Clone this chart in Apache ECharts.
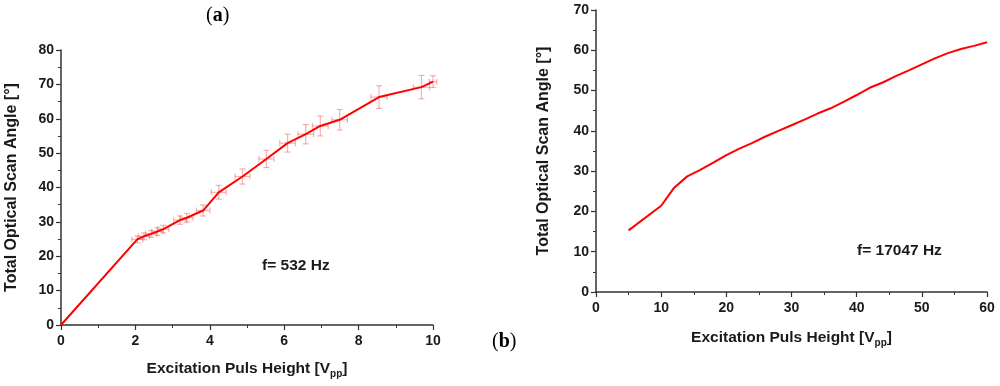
<!DOCTYPE html>
<html><head><meta charset="utf-8">
<script src="https://cdn.jsdelivr.net/npm/echarts@6/dist/echarts.min.js"></script>
<style>html,body{margin:0;padding:0;background:#fff}#c{width:1000px;height:386px}</style>
</head><body><div id="c"></div>
<script>
// Panel (a): f = 532 Hz, with error bars
const aX = [0, 2.05, 2.23, 2.42, 2.59, 2.75, 3.2, 3.38, 3.82, 4.24, 4.88, 5.52, 6.09, 6.58, 6.97, 7.49, 8.55, 9.69, 10.0];
const aY = [0, 24.9, 25.8, 26.5, 27.2, 27.9, 30.5, 31.2, 33.3, 38.6, 43.2, 48.3, 52.9, 55.5, 57.9, 59.7, 66.3, 69.2, 70.8];
const aErrY = [0, 1.0, 1.0, 1.0, 1.1, 1.1, 1.2, 1.3, 1.6, 2.0, 2.2, 2.5, 2.6, 2.8, 2.9, 3.0, 3.3, 3.4, 1.7];
const aErrX = [0, 0.15, 0.15, 0.15, 0.15, 0.15, 0.17, 0.17, 0.18, 0.2, 0.2, 0.2, 0.21, 0.21, 0.21, 0.21, 0.22, 0.22, 0.1];
// Panel (b): f = 17047 Hz
const bX = [5, 10, 12, 14, 16, 18, 20, 22, 24, 26, 28, 30, 32, 34, 36, 38, 40, 42, 44, 46, 48, 50, 52, 54, 56, 58, 60];
const bY = [15.3, 21.4, 25.9, 28.7, 30.3, 32.1, 34.0, 35.6, 37.0, 38.6, 40.0, 41.4, 42.8, 44.3, 45.6, 47.2, 48.9, 50.7, 52.0, 53.6, 55.0, 56.5, 58.0, 59.3, 60.3, 61.1, 62.0];

const xTitle = 'Excitation Puls Height [V{sub|pp}]';
const yTitle = 'Total Optical Scan Angle [°]';
const labelA = 'f= 532 Hz';
const labelB = 'f= 17047 Hz';

const FONT = '"Liberation Sans", Arial, sans-serif';
const axisCol = '#333';
const txtCol = '#1a1a1a';

function axisBase(min, max, interval, isY, name, nameGap, nameSize) {
  return {
    type: 'value', min: min, max: max, interval: interval,
    splitLine: {show: false},
    axisLine: {show: true, onZero: false, lineStyle: {color: axisCol, width: 1.5}},
    axisTick: {show: true, inside: false, length: 5, lineStyle: {color: axisCol, width: 1.2}},
    minorTick: {show: true, splitNumber: 2, length: 3, lineStyle: {color: axisCol, width: 1}},
    axisLabel: {color: txtCol, fontFamily: FONT, fontWeight: 'bold', fontSize: 14, margin: isY ? 7 : 9},
    name: name, nameLocation: 'middle', nameGap: nameGap,
    nameTextStyle: {color: txtCol, fontFamily: FONT, fontWeight: 'bold', fontSize: nameSize,
      rich: {sub: {fontSize: 10, fontFamily: FONT, fontWeight: 'bold', color: txtCol, padding: [11, 0, 0, 0]}}}
  };
}

const errData = aX.map((x, i) => [x, aY[i], aErrX[i], aErrY[i]]).filter(d => d[2] > 0 || d[3] > 0);

function renderErr(params, api) {
  const x = api.value(0), y = api.value(1), ex = api.value(2), ey = api.value(3);
  const top = api.coord([x, y + ey]);
  const bot = api.coord([x, y - ey]);
  const lft = api.coord([x - ex, y]);
  const rgt = api.coord([x + ex, y]);
  const cap = 3;
  const st = {stroke: 'rgba(240,110,110,0.55)', lineWidth: 1.2, fill: null};
  return {type: 'group', children: [
    {type: 'line', shape: {x1: top[0], y1: top[1], x2: bot[0], y2: bot[1]}, style: st},
    {type: 'line', shape: {x1: top[0] - cap, y1: top[1], x2: top[0] + cap, y2: top[1]}, style: st},
    {type: 'line', shape: {x1: bot[0] - cap, y1: bot[1], x2: bot[0] + cap, y2: bot[1]}, style: st},
    {type: 'line', shape: {x1: lft[0], y1: lft[1], x2: rgt[0], y2: rgt[1]}, style: st},
    {type: 'line', shape: {x1: lft[0], y1: lft[1] - cap, x2: lft[0], y2: lft[1] + cap}, style: st},
    {type: 'line', shape: {x1: rgt[0], y1: rgt[1] - cap, x2: rgt[0], y2: rgt[1] + cap}, style: st}
  ]};
}

const chart = echarts.init(document.getElementById('c'), null, {renderer: 'canvas'});
chart.setOption({
  backgroundColor: '#fff',
  animation: false,
  grid: [
    {left: 61, top: 50, width: 372, height: 275},
    {left: 596, top: 10, width: 391, height: 282}
  ],
  xAxis: [
    Object.assign(axisBase(0, 10, 2, false, xTitle, 33, 15.5), {gridIndex: 0}),
    Object.assign(axisBase(0, 60, 10, false, xTitle, 35, 15.5), {gridIndex: 1})
  ],
  yAxis: [
    Object.assign(axisBase(0, 80, 10, true, yTitle, 41, 16), {gridIndex: 0}),
    Object.assign(axisBase(0, 70, 10, true, yTitle, 44, 16), {gridIndex: 1})
  ],
  series: [
    {type: 'custom', xAxisIndex: 0, yAxisIndex: 0, renderItem: renderErr, data: errData, z: 2, silent: true},
    {type: 'line', xAxisIndex: 0, yAxisIndex: 0, data: aX.map((x, i) => [x, aY[i]]),
      showSymbol: false, lineStyle: {color: '#ff0000', width: 2}, z: 3},
    {type: 'line', xAxisIndex: 1, yAxisIndex: 1, data: bX.map((x, i) => [x, bY[i]]),
      showSymbol: false, lineStyle: {color: '#ff0000', width: 2}, z: 3}
  ],
  graphic: [
    {type: 'text', left: 262, top: 258, style: {text: labelA, font: 'bold 15.5px ' + FONT, fill: txtCol}},
    {type: 'text', left: 857, top: 243, style: {text: labelB, font: 'bold 15.5px ' + FONT, fill: txtCol}},
    {type: 'text', left: 206, top: 6, style: {text: '{p|(}{b|a}{p|)}', rich: {p: {font: '20px "Liberation Serif", serif', fill: '#000'}, b: {font: 'bold 20px "Liberation Serif", serif', fill: '#000'}}}},
    {type: 'text', left: 492, top: 332, style: {text: '{p|(}{b|b}{p|)}', rich: {p: {font: '20px "Liberation Serif", serif', fill: '#000'}, b: {font: 'bold 20px "Liberation Serif", serif', fill: '#000'}}}}
  ]
});
</script></body></html>
